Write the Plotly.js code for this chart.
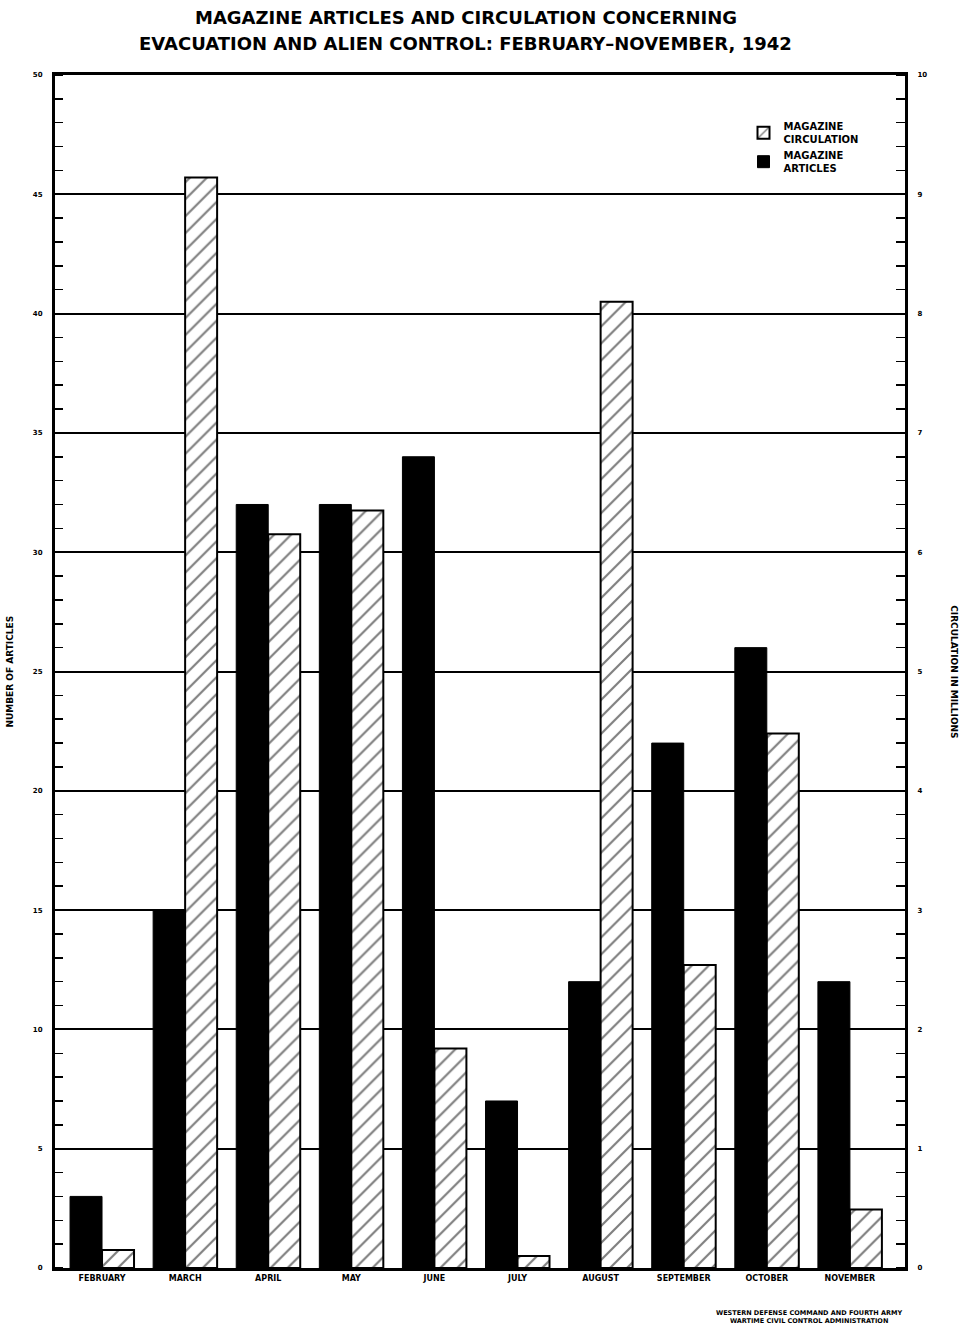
<!DOCTYPE html>
<html><head><meta charset="utf-8">
<script src="https://cdn.plot.ly/plotly-3.0.1.min.js"></script>
<style>body{margin:0;background:#fff}#c{width:963px;height:1327px}</style>
</head><body><div id="c"></div>
<script>
const months = ["FEBRUARY","MARCH","APRIL","MAY","JUNE","JULY","AUGUST","SEPTEMBER","OCTOBER","NOVEMBER"];
const articles = [3, 15, 32, 32, 34, 7, 12, 22, 26, 12];
const circulationMillions = [0.15, 9.14, 6.15, 6.35, 1.84, 0.1, 8.1, 2.54, 4.48, 0.49];
const leftTicks = [0,5,10,15,20,25,30,35,40,45,50];
const rightTicks = [0,1,2,3,4,5,6,7,8,9,10];

const F = "DejaVu Sans, Arial, sans-serif";
const W = 0.385;
const traces = [
  {type:'bar', name:'<b>MAGAZINE<br>CIRCULATION</b>', x:months, y:circulationMillions, yaxis:'y2',
   width:W, offset:0.0,
   marker:{color:'#fff', line:{color:'#000', width:2},
     pattern:{shape:'/', fgcolor:'#000', bgcolor:'#fff', size:12, solidity:0.18, fillmode:'overlay'}}},
  {type:'bar', name:'<b>MAGAZINE<br>ARTICLES</b>', x:months, y:articles, yaxis:'y',
   width:W, offset:-W,
   marker:{color:'#000', line:{color:'#000', width:1}}}
];

const layout = {
  width:963, height:1327,
  margin:{l:55, r:58, t:75, b:59},
  paper_bgcolor:'#fff', plot_bgcolor:'#fff',
  showlegend:true,
  legend:{x:0.81, y:0.968, xanchor:'left', yanchor:'top', bgcolor:'rgba(0,0,0,0)',
    font:{family:F, size:10, color:'#000'}, tracegroupgap:6, itemwidth:30},
  xaxis:{type:'category', range:[-0.566, 9.663], showline:true, linecolor:'#000', linewidth:3, mirror:true,
    ticks:'', tickfont:{family:F, size:8, color:'#000', weight:'bold'}, showgrid:false, fixedrange:true},
  yaxis:{range:[0,50], tickvals:leftTicks, ticktext:leftTicks.map(String), showgrid:true, gridcolor:'#000', gridwidth:2,
    showline:true, linecolor:'#000', linewidth:3, ticks:'', zeroline:false,
    tickfont:{family:F, size:7, color:'#000', weight:'bold'}, ticklabelstandoff:8,
    minor:{dtick:1, ticks:'inside', ticklen:8, tickcolor:'#000', tickwidth:1.5, showgrid:false}},
  yaxis2:{range:[0,10], overlaying:'y', side:'right', tickvals:rightTicks, ticktext:rightTicks.map(String),
    showgrid:false, showline:true, linecolor:'#000', linewidth:3, ticks:'', zeroline:false,
    tickfont:{family:F, size:7, color:'#000', weight:'bold'}, ticklabelstandoff:8,
    minor:{dtick:0.2, ticks:'inside', ticklen:9, tickcolor:'#000', tickwidth:1.5, showgrid:false}},
  annotations:[
    {text:'<b>MAGAZINE ARTICLES AND CIRCULATION CONCERNING</b>', xref:'paper', yref:'paper', x:0.483, y:1.0486,
     showarrow:false, font:{family:F, size:18, color:'#000'}, xanchor:'center', yanchor:'middle'},
    {text:'<b>EVACUATION AND ALIEN CONTROL: FEBRUARY–NOVEMBER, 1942</b>', xref:'paper', yref:'paper', x:0.483, y:1.0268,
     showarrow:false, font:{family:F, size:18, color:'#000'}, xanchor:'center', yanchor:'middle'},
    {text:'<b>NUMBER OF ARTICLES</b>', xref:'paper', yref:'paper', x:-0.054, y:0.5, textangle:-90,
     showarrow:false, font:{family:F, size:9, color:'#000'}, xanchor:'center', yanchor:'middle'},
    {text:'<b>CIRCULATION IN MILLIONS</b>', xref:'paper', yref:'paper', x:1.058, y:0.5, textangle:90,
     showarrow:false, font:{family:F, size:9, color:'#000'}, xanchor:'center', yanchor:'middle'},
    {text:'<b>WESTERN DEFENSE COMMAND AND FOURTH ARMY<br>WARTIME CIVIL CONTROL ADMINISTRATION</b>', xref:'paper', yref:'paper',
     x:0.888, y:-0.033, showarrow:false, font:{family:F, size:6.5, color:'#000'}, xanchor:'center', yanchor:'top'}
  ]
};
Plotly.newPlot('c', traces, layout, {displayModeBar:false, staticPlot:true});
</script></body></html>
